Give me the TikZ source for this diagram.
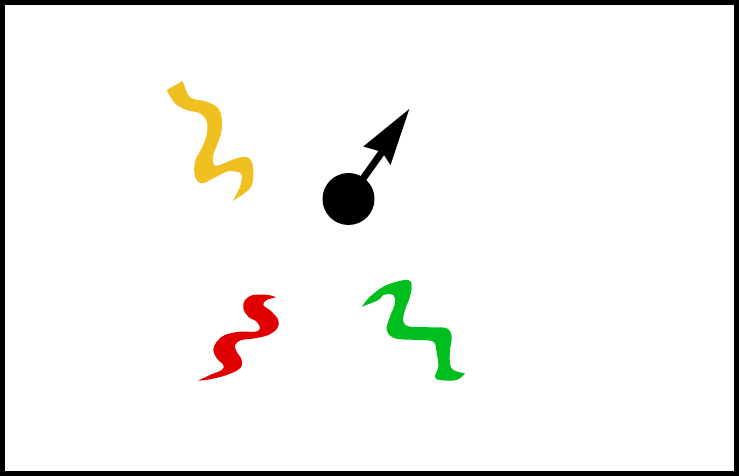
\documentclass[tikz,border=0pt]{standalone}
\begin{document}
\begin{tikzpicture}[x=1pt,y=-1pt,
  frame/.style={draw=black,line width=5pt}]
\definecolor{cyel}{RGB}{240,191,32}
\definecolor{cred}{RGB}{225,0,0}
\definecolor{cgrn}{RGB}{0,190,30}
\useasboundingbox (0,0) rectangle (739,476);
\fill[white] (0,0) rectangle (739,476);
\draw[frame] (2.5,2.5) rectangle (736.5,473.5);
% yellow ribbon
\fill[cyel] plot[smooth,tension=0.6] coordinates {(182.7,81) (184,85) (188.3,95) (193.3,99) (206.7,101.7) (218.3,108.3) (221.7,118.3) (221.7,130) (218.3,141.7) (213.3,155) (214,165) (220,165) (231.7,160) (245,156.7) (251.7,161.7) (253.3,175) (250,188.3) (232.7,201)}
  -- plot[smooth,tension=0.6] coordinates {(232.7,201) (240,186.7) (241.7,175) (236.7,171.7) (226.7,171.7) (213.3,178.3) (201.7,183.3) (195,176.7) (195,161.7) (201.7,148.3) (206.7,135) (206.7,121.7) (200,113.3) (186.7,110) (175,103.3) (166.7,90)} -- cycle;
% red ribbon
\fill[cred] plot[smooth,tension=0.6] coordinates {(276,297.3) (268.3,295) (253.3,295) (245,300) (243.3,308.3) (248.3,316.7) (256.7,321.7) (260,328.3) (255,331.7) (240,331.7) (225,335) (216.7,341.7) (213.3,350) (216.7,358.3) (223.3,365) (221.7,370) (210,375) (198.3,380.7)}
  -- plot[smooth,tension=0.6] coordinates {(198.3,380.7) (210,379.3) (226.7,375) (240,368.3) (241.7,360) (236.7,351.7) (235,345) (241.7,340) (255,338.3) (268.3,335) (277.3,328.3) (278.3,320) (271.7,311.7) (263.3,305) (266.7,300) (276,297.3)} -- cycle;
% green ribbon
\fill[cgrn] plot[smooth,tension=0.6] coordinates {(361.7,306.7) (370,296.7) (383.3,286.7) (396.7,281.7) (408.3,280) (411.7,285) (410,296.7) (405,310) (403.3,321.7) (410,326.7) (430,327.3) (446.7,328.3) (451.7,336.7) (450,350) (450,363.3) (453.3,370) (465,373.3)}
  -- plot[smooth,tension=0.6] coordinates {(465,373.3) (456.7,380) (440,380) (435,376.7) (438.3,366.7) (436.7,353.3) (433.3,341.7) (416.7,340) (395,338.3) (386.7,330) (390,316.7) (395,303.3) (393.3,295) (383.3,295) (378.3,300) (361.7,306.7)} -- cycle;
% black ball with arrow
\node[circle,fill=black,minimum size=52pt,inner sep=0pt] (ball) at (348.5,199) {};
\coordinate (notch) at (382,152);
\coordinate (tip) at (409.3,109);
\draw[line width=7pt] (ball.center) -- (notch);
\fill[black] (tip) -- (363.3,146.5) -- (notch) -- (390.5,165) -- cycle;
\end{tikzpicture}
\end{document}
